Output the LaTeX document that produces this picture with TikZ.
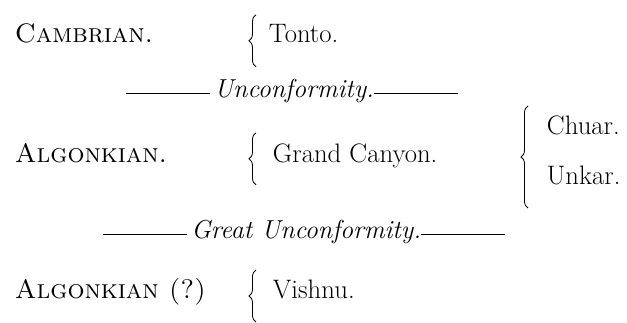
\documentclass[tikz,border=0pt]{standalone}
\usepackage{tikz}
\usetikzlibrary{decorations.pathreplacing, positioning}

\tikzset{
  era/.style   ={anchor=base west, font=\fontsize{19}{22}\selectfont\scshape},
  unit/.style  ={anchor=base west, font=\fontsize{19}{22}\selectfont},
  gap/.style   ={anchor=base, font=\fontsize{18.5}{22}\selectfont\itshape},
  curly/.style ={decorate, decoration={brace, amplitude=5pt}, line width=0.6pt},
}
\newcommand{\dashrule}{\rule[0.33ex]{2.1cm}{0.5pt}}

\begin{document}
\begin{tikzpicture}
  \useasboundingbox (0,0) rectangle (15.675,-8.05);
  % Cambrian
  \node[era]  (cambrian) at (0.25,-1.07) {Cambrian.};
  \node[unit] (tonto)    at (6.6,-1.07) {Tonto.};
  \draw[curly] (6.4,-1.67) -- (6.4,-0.37);
  % first break
  \node[gap] (unconf) at (7.3,-2.43) {\dashrule\,Unconformity.\dashrule};
  % Algonkian
  \node[era]  (algonkian) at (0.25,-4.07) {Algonkian.};
  \node[unit] (canyon)    at (6.7,-4.07) {Grand Canyon.};
  \draw[curly] (6.4,-4.62) -- (6.4,-3.32);
  \node[unit] (chuar) at (13.55,-3.35) {Chuar.};
  \node[unit] (unkar) at (13.55,-4.6) {Unkar.};
  \draw[curly] (13.2,-5.2) -- (13.2,-2.65);
  % second break
  \node[gap] (greatunconf) at (7.6,-5.95) {\dashrule\,Great Unconformity.\dashrule};
  % Algonkian (?)
  \node[era]  (algonkianq) at (0.25,-7.45) {Algonkian (?)};
  \node[unit] (vishnu)     at (6.7,-7.45) {Vishnu.};
  \draw[curly] (6.4,-8.05) -- (6.4,-6.75);
\end{tikzpicture}
\end{document}
